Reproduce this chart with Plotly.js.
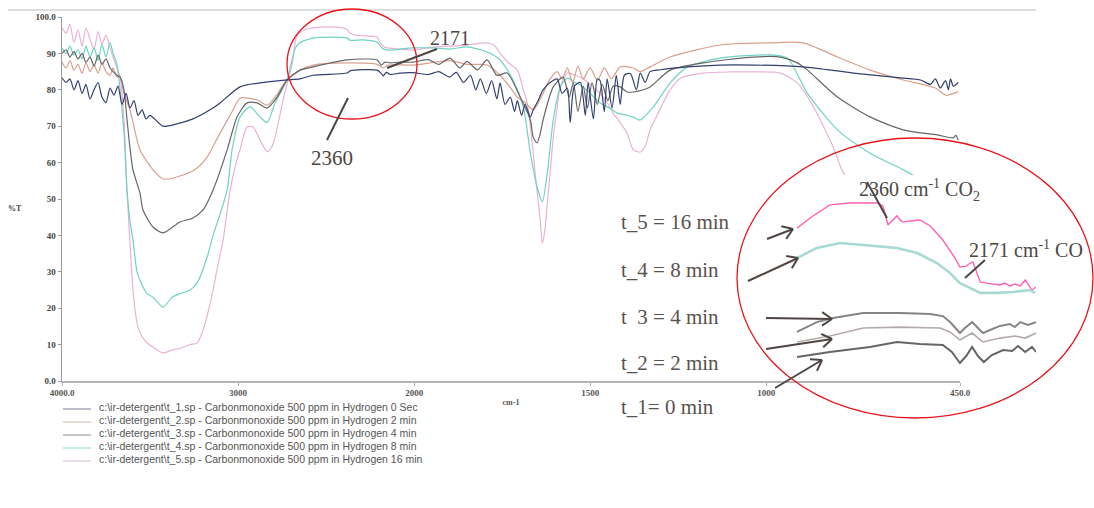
<!DOCTYPE html>
<html><head><meta charset="utf-8">
<script src="https://cdn.plot.ly/plotly-3.0.1.min.js"></script>
<style>html,body{margin:0;padding:0;background:#fff}#chart{width:1094px;height:508px}</style>
</head><body><div id="chart"></div>
<script>
// ---------- main spectra: wavenumber (cm-1) and %T ----------
const wn_t1 = [4000,3977,3955,3932,3909,3886,3864,3841,3818,3795,3773,3750,3727,3705,3682,3659,3636,3614,3591,3568,3545,3523,3500,3426,3358,3256,3159,3102,2989,2875,2722,2648,2574,2381,2364,2210,2187,2176,2159,2136,2080,2006,1960,1930,1900,1880,1860,1840,1825,1812,1795,1780,1765,1756,1742,1727,1715,1707,1695,1685,1670,1662,1648,1634,1614,1594,1580,1565,1557,1545,1528,1514,1506,1491,1480,1472,1460,1452,1438,1426,1415,1403,1386,1369,1358,1344,1330,1301,1224,1131,1037,895,753,619,562,534,520,506,491,483,477,469,455];
const T_t1 = [83.3,82,83,80,82.5,79,81.5,77.5,80,82,78,76.5,80.5,78.5,81,76,79,75,77,73,74.5,72,73,70,70.5,72,74.5,76.4,80.8,81.9,82.7,83,84,84.6,85.2,85.4,84.5,83.8,84.8,84.2,84.6,84.7,84.2,85,83.5,84.8,82,84,80,83,79,82.5,77.5,81.9,76,78,74,77,73,76,72.5,74.5,77,80,82,83,79,80.5,71,81,82,73,82,72,83,82.5,74,83,75,84,76,84,84.5,80,84.6,82,85,85.5,86.3,86.8,86.8,86.3,84.6,83.3,82.7,81.5,83,80.5,82.5,80,83,81,82];

const wn_t2 = [4000,3977,3955,3932,3909,3886,3864,3841,3818,3795,3773,3750,3727,3710,3688,3670,3648,3614,3557,3483,3426,3312,3233,3176,3102,3028,2989,2892,2835,2790,2722,2648,2574,2381,2210,2176,2148,2006,1946,1898,1850,1793,1756,1730,1707,1685,1662,1650,1634,1614,1594,1580,1565,1550,1535,1520,1500,1480,1460,1440,1415,1378,1358,1330,1273,1131,989,895,798,705,611,520,490,469,455];
const T_t2 = [87.6,86,88,85.4,87,84.5,87.4,85,86.8,84.6,87.4,85,84,86,83.5,83.5,79,74.5,63.5,58,55.5,56.6,58.5,61.5,68.1,74.5,77.7,77.2,75.8,78,82.7,85.4,86.8,87.4,87,86,86.8,86.8,87.5,88,87,86.8,84,81,78,76.5,74.5,76,79,83,85,83,86,82,86.5,83,86,82.5,86,83,86.3,86,85,86.3,89,92.3,92.9,92.9,89,85.4,82.7,80.5,78.5,79,79.5];

const wn_t3 = [4000,3977,3955,3932,3909,3886,3864,3841,3818,3795,3773,3750,3727,3710,3688,3670,3648,3631,3614,3597,3557,3540,3483,3426,3330,3256,3199,3142,3062,3006,2949,2892,2835,2778,2722,2648,2574,2381,2210,2187,2165,2136,2080,2006,1960,1930,1898,1870,1850,1820,1793,1765,1736,1699,1670,1662,1651,1642,1634,1605,1577,1560,1548,1535,1520,1508,1495,1480,1466,1450,1435,1415,1395,1378,1349,1330,1273,1179,1037,960,912,883,798,704,611,514,469,462,455];
const T_t3 = [90,91,89,90.5,88.5,90,87.5,89,86.5,89.5,87,88.5,86,85,84,83.5,80,72,64,58,51.6,47,42.3,40.7,43.7,44.8,47,52.5,63.5,72.5,76.4,76.4,75,78,82.7,85.4,86.3,88.2,88.2,86.8,87.6,87.4,87.6,87.6,88.3,87,88.7,86,87.8,85.5,88.2,84,84.6,78,71.7,67,65.4,68,71.7,80.8,83.5,78,82,74,81,75,82,76,81.5,77,81,80.8,79.4,79.4,80,80.8,85.4,87.4,89,89,87.4,85.4,78,72.5,69,67.6,66.8,67.5,66.2];

const wn_t4 = [4000,3977,3955,3932,3909,3886,3864,3841,3818,3795,3773,3750,3727,3710,3688,3670,3648,3631,3614,3597,3574,3557,3517,3483,3426,3375,3330,3273,3233,3176,3142,3119,3062,3034,2989,2932,2875,2835,2790,2722,2665,2574,2381,2364,2290,2210,2182,2153,2006,1946,1898,1850,1793,1756,1719,1690,1670,1651,1636,1622,1605,1585,1565,1543,1520,1500,1472,1445,1423,1395,1378,1358,1321,1273,1224,1131,989,940,883,798,705,611,534,455];
const T_t4 = [91.5,90,92,89.5,91,88.5,92,89,91.5,88,92.5,89,93,90,87,80,68,52.5,44,38.7,30,27.7,24,23,20.3,23,24,25,26.9,34,40,43.4,52.5,63.5,72.5,75.3,72.5,71,76.4,82.7,92.3,94.2,94.2,93.6,93.7,93.1,91.5,90.9,91.5,91.5,91.2,91.8,90.4,88.2,82.7,75.3,62.6,53.3,49.2,57,71.7,80.8,83.2,82,80.8,79,76.4,75,73.6,73,72.5,71.7,75.3,81.9,86.3,88.7,89.6,88.7,79,69,62.6,58,54,51];

const wn_t5 = [4000,3977,3955,3932,3909,3886,3864,3841,3818,3795,3773,3750,3727,3710,3688,3670,3648,3631,3614,3597,3574,3557,3517,3483,3426,3375,3330,3273,3233,3199,3170,3142,3114,3085,3045,3011,2989,2949,2915,2875,2835,2812,2790,2767,2744,2716,2693,2665,2619,2574,2477,2403,2381,2364,2335,2278,2210,2193,2170,2153,2080,2006,1946,1898,1850,1793,1770,1756,1733,1707,1690,1679,1670,1662,1651,1642,1636,1628,1622,1614,1605,1594,1585,1565,1543,1520,1500,1472,1452,1435,1415,1395,1378,1366,1358,1344,1330,1310,1293,1273,1244,1179,1102,1037,960,912,889,866,838,810,781,761,705,619,534,455];
const T_t5 = [97,95.5,98,93,96.5,92,97,94,91,96,92.5,95,91.5,89,86,83.5,72,52.5,38,25,16,13.2,10.5,9.3,7.7,8.5,9,10,10.4,14,19,25,32,38.7,52.5,60,63.5,69.8,69.8,66.2,63,64,67,72,77.2,82.7,87,95,96.5,97,97.3,97,96.5,95.6,95,94.8,94.5,92.9,91.8,91.5,91.2,90.9,91.8,92,92.3,92.9,92,90,87.5,85.4,80,76.4,70,62.6,52,44.2,37.9,42,48.9,57,67,75,80.8,84.6,84,83,81.5,79,76.5,73.6,71,68,63.5,63,62.9,64.5,69,73,76.4,80,83.2,84.6,84.9,84.9,84.6,81.9,79,75.3,70,64.3,57.1,55,48,38,30,25];

// ---------- inset (2360 / 2171 region, relative scale) ----------
const ins_wn_t5 = [2562,2533,2489,2444,2384,2371,2360,2351,2340,2333,2327,2311,2289,2266,2238,2211,2200,2186,2177,2171,2164,2155,2140,2122,2111,2100,2089,2078,2066,2055,2049,2040,2031];
const ins_v_t5 = [72.5,77.7,84.5,85.5,85.5,83.9,74.1,76.2,78.8,76.7,75.6,76.2,76.7,73.6,66.3,57,52.3,52.8,54.4,54.9,50.8,44.6,44,43.5,43,44,42.5,43.5,42.5,45.6,43.5,40.4,42];
const ins_wn_t4 = [2562,2518,2466,2378,2340,2295,2251,2222,2200,2178,2155,2118,2082,2044,2033];
const ins_v_t4 = [57,62.2,64.8,63.2,62.2,59.6,54.4,49.2,44,41.5,38.9,38.9,39.4,40.4,38.9];
const ins_wn_t3 = [2562,2518,2482,2415,2333,2266,2238,2222,2206,2200,2189,2173,2160,2149,2133,2111,2089,2078,2066,2049,2031];
const ins_v_t3 = [18.7,23.8,25.9,28.5,28.5,28,26.9,23.8,19.7,18.1,20.7,23.8,20.7,18.1,19.7,21.8,22.8,21.2,23.8,22.3,23.8];
const ins_wn_t2 = [2562,2489,2415,2333,2244,2222,2200,2173,2149,2111,2078,2055,2031];
const ins_v_t2 = [13.5,16.6,20.7,21.2,20.7,18.7,14.5,18.1,13.5,15.5,16.6,15.5,18.1];
const ins_wn_t1 = [2562,2489,2400,2340,2289,2238,2218,2200,2186,2173,2160,2147,2129,2104,2084,2071,2055,2040,2031];
const ins_v_t1 = [5.7,8.3,10.9,13.5,12.4,11.9,8.3,2.6,6.2,10.9,6.2,3.1,6.7,9.3,8.8,11.4,8.3,10.9,8.3];

// ---------- labels ----------
const legendLabels = [
  "c:\\ir-detergent\\t_1.sp - Carbonmonoxide 500 ppm in Hydrogen 0 Sec",
  "c:\\ir-detergent\\t_2.sp - Carbonmonoxide 500 ppm in Hydrogen 2 min",
  "c:\\ir-detergent\\t_3.sp - Carbonmonoxide 500 ppm in Hydrogen 4 min",
  "c:\\ir-detergent\\t_4.sp - Carbonmonoxide 500 ppm in Hydrogen 8 min",
  "c:\\ir-detergent\\t_5.sp - Carbonmonoxide 500 ppm in Hydrogen 16 min"
];
const timeLabels = ["t_5 = 16 min","t_4 = 8 min","t&nbsp; 3 = 4 min","t_2 = 2 min","t_1= 0 min"];
const xTickVals = [4000,3000,2000,1500,1000,450];
const xTickText = ["4000.0","3000","2000","1500","1000","450.0"];
const yTickVals = [0,10,20,30,40,50,60,70,80,90,100];
const yTickText = ["0.0","10","20","30","40","50","60","70","80","90","100.0"];

// ---------- helpers ----------
// instrument x scale: 4000-2000 linear, below 2000 expanded x2
function toU(w){ return w >= 2000 ? 4000 - w : 2000 + 2*(2000 - w); }
const W=1094,H=508,ML=62,MR=50,MT=17,MB=127;
const PW=W-ML-MR, PH=H-MT-MB;
const px = x => (x-ML)/PW;
const py = y => (H-MB-y)/PH;

const mainColors = {t1:'#33406f', t2:'#d9a08e', t3:'#666666', t4:'#6fd3c3', t5:'#e9b2d6'};
function mainTrace(wn, t, c, w){
  return {x: wn.map(toU), y: t, type:'scatter', mode:'lines', xaxis:'x', yaxis:'y',
          line:{color:c, width:w||1.2, shape:'spline', smoothing:0.7}, showlegend:false, hoverinfo:'skip'};
}
function insetTrace(wn, v, c, w){
  return {x: wn, y: v, type:'scatter', mode:'lines', xaxis:'x2', yaxis:'y2',
          line:{color:c, width:w}, showlegend:false, hoverinfo:'skip'};
}

const data = [
  mainTrace(wn_t5, T_t5, mainColors.t5),
  mainTrace(wn_t4, T_t4, mainColors.t4),
  mainTrace(wn_t2, T_t2, mainColors.t2),
  mainTrace(wn_t3, T_t3, mainColors.t3),
  mainTrace(wn_t1, T_t1, mainColors.t1),
  insetTrace(ins_wn_t5, ins_v_t5, '#ff62b0', 1.4),
  insetTrace(ins_wn_t4, ins_v_t4, '#a9d9d4', 2.6),
  insetTrace(ins_wn_t2, ins_v_t2, '#b4aaa8', 1.6),
  insetTrace(ins_wn_t3, ins_v_t3, '#858585', 2),
  insetTrace(ins_wn_t1, ins_v_t1, '#666666', 2)
];

const txt = '#4d4643';
const serif = 'Liberation Serif';
function pline(x0,y0,x1,y1,color,width){
  return {type:'line', xref:'paper', yref:'paper', x0:px(x0), y0:py(y0), x1:px(x1), y1:py(y1), line:{color:color, width:width}};
}
const shapes = [
  pline(8,10,1036,10,'#dddddd',2),
  {type:'circle', xref:'paper', yref:'paper', x0:px(287), x1:px(417), y0:py(119), y1:py(9), line:{color:'#e8141b', width:1.3}},
  {type:'circle', xref:'paper', yref:'paper', x0:px(737), x1:px(1093), y0:py(418), y1:py(138), line:{color:'#e8141b', width:1.3}},
  pline(327,140,348,98,txt,2),
  pline(387,68,437,49,txt,2),
  pline(867,182,887,218,txt,2),
  pline(985,260,965,278,txt,2)
];
// open arrows (head x,y ; tail x,y in page pixels)
const arrows = [[793,229,767,239],[798,258,748,281],[832,319,766,318],[832,339,766,349],[822,360,775,388]];
arrows.forEach(a=>{
  const [hx,hy,tx,ty] = a;
  const dx=hx-tx, dy=hy-ty, len=Math.hypot(dx,dy), ux=dx/len, uy=dy/len;
  const L=12, c=Math.cos(0.6), s=Math.sin(0.6);
  shapes.push(pline(tx,ty,hx,hy,txt,2));
  shapes.push(pline(hx,hy,hx-L*(ux*c-uy*s),hy-L*(uy*c+ux*s),txt,2));
  shapes.push(pline(hx,hy,hx-L*(ux*c+uy*s),hy-L*(uy*c-ux*s),txt,2));
});
const legendLineColors = ['#8f96ad','#dcc4bc','#a0a0a0','#a6dccd','#dcc8dc'];
const legendRows = [407,420,433,446,459];
legendRows.forEach((r,i)=>{
  shapes.push(pline(63,r+2,91,r+2,legendLineColors[i],1.2));
});

function note(text,x,y,xa,size,color,extra){
  return Object.assign({text:text, x:px(x), y:py(y), xref:'paper', yref:'paper', xanchor:xa, yanchor:'middle',
    showarrow:false, font:{family:serif, size:size, color:color}}, extra||{});
}
const annotations = [
  note('2360',332,158,'center',21,txt),
  note('2171',450,38,'center',20,txt),
  note('2360 cm<sup>-1</sup> CO<sub>2</sub>',857,190,'left',20,txt),
  note('2171 cm<sup>-1</sup> CO',967,249,'left',20,txt),
  note('%T',15,208,'center',8,'#444',{font:{family:serif,size:8,color:'#444',weight:'bold'}})
];
const timeY = [222,270,317,363,407];
timeLabels.forEach((t,i)=>{ annotations.push(note(t,619,timeY[i],'left',21,'#5a524e')); });
legendLabels.forEach((t,i)=>{
  annotations.push(note(t,97,legendRows[i],'left',10.5,'#555',{font:{family:'Liberation Sans',size:10.5,color:'#555'}}));
});

const layout = {
  width:W, height:H, margin:{l:ML, r:MR, t:MT, b:MB},
  paper_bgcolor:'#ffffff', plot_bgcolor:'#ffffff',
  showlegend:false,
  xaxis:{domain:[0, px(960)], range:[0,5100], tickvals:xTickVals.map(toU), ticktext:xTickText,
    showgrid:false, zeroline:false, showline:true, linecolor:'#b5b5b5', linewidth:1.5,
    ticks:'outside', ticklen:3, tickcolor:'#b5b5b5',
    tickfont:{family:serif, size:9, color:'#555', weight:'bold'},
    title:{text:'cm-1', font:{family:serif, size:8, color:'#555', weight:'bold'}, standoff:2}},
  yaxis:{domain:[0,1], range:[0,100], tickvals:yTickVals, ticktext:yTickText,
    showgrid:false, zeroline:false, showline:true, linecolor:'#9a9a9a', linewidth:1.5,
    ticks:'outside', ticklen:3, tickcolor:'#9a9a9a',
    tickfont:{family:serif, size:9, color:'#444', weight:'bold'}},
  xaxis2:{domain:[px(797), px(1036)], range:[2562,2031], anchor:'y2', visible:false, showgrid:false, zeroline:false},
  yaxis2:{domain:[py(368), py(175)], range:[0,100], anchor:'x2', visible:false, showgrid:false, zeroline:false},
  shapes:shapes, annotations:annotations
};
Plotly.newPlot('chart', data, layout, {staticPlot:true, displayModeBar:false});
</script></body></html>
